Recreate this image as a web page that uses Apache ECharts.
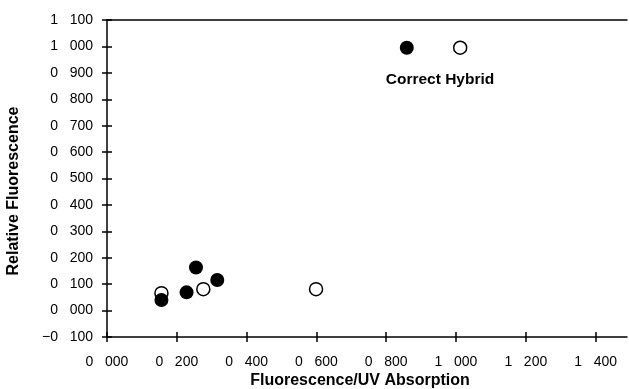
<!DOCTYPE html>
<html>
<head>
<meta charset="utf-8">
<script src="https://cdn.jsdelivr.net/npm/echarts@6/dist/echarts.min.js"></script>
<style>html,body{margin:0;padding:0;background:#fff;}#c{width:629px;height:389px;}</style>
</head>
<body>
<div id="c"></div>
<script>
// Data
const filledX = [0.156, 0.228, 0.255, 0.316, 0.859];
const filledY = [0.040, 0.069, 0.163, 0.116, 0.995];
const openX = [0.156, 0.276, 0.599, 1.012];
const openY = [0.066, 0.081, 0.081, 0.995];
const xTicks = [0, 0.2, 0.4, 0.6, 0.8, 1.0, 1.2, 1.4];
const xTitle = 'Fluorescence/UV Absorption';
const yTitle = 'Relative Fluorescence';
const annotation = 'Correct Hybrid';

function fmt(v) {
  const neg = v < -1e-9;
  const a = Math.abs(v);
  const ip = Math.floor(a + 1e-9);
  const fr = Math.round((a - ip) * 1000);
  return (neg ? '\u2212' : '') + ip + '   ' + String(fr).padStart(3, '0');
}

const FONT = '"Liberation Sans", Arial, Helvetica, sans-serif';
const chart = echarts.init(document.getElementById('c'), null, {renderer: 'canvas'});
const lineStyle = {color: '#000', width: 1.5};
chart.setOption({
  animation: false,
  backgroundColor: '#fff',
  grid: {left: 107, right: 2, top: 20, bottom: 52},
  xAxis: [
    {
      type: 'value', min: 0, max: 1.49, position: 'bottom',
      axisLine: {show: true, onZero: false, lineStyle},
      axisTick: {show: true, length: 5, inside: false, customValues: xTicks, lineStyle},
      axisLabel: {customValues: xTicks, formatter: fmt, color: '#000', fontSize: 14, fontFamily: FONT, margin: 18},
      splitLine: {show: false}
    },
    {
      type: 'value', min: 0, max: 1.49, position: 'bottom',
      axisLine: {show: false, onZero: false},
      axisTick: {show: true, length: 5, inside: true, customValues: xTicks, lineStyle},
      axisLabel: {show: false},
      splitLine: {show: false}
    },
    {
      type: 'value', min: 0, max: 1.49, position: 'top',
      axisLine: {show: true, onZero: false, lineStyle},
      axisTick: {show: false},
      axisLabel: {show: false},
      splitLine: {show: false}
    }
  ],
  yAxis: [
    {
      type: 'value', min: -0.1, max: 1.1, interval: 0.1, position: 'left',
      axisLine: {show: true, onZero: false, lineStyle},
      axisTick: {show: true, length: 5, inside: false, lineStyle},
      axisLabel: {formatter: fmt, color: '#000', fontSize: 14, fontFamily: FONT, margin: 14},
      splitLine: {show: false}
    },
    {
      type: 'value', min: -0.1, max: 1.1, interval: 0.1, position: 'left',
      axisLine: {show: false, onZero: false},
      axisTick: {show: true, length: 5, inside: true, lineStyle},
      axisLabel: {show: false},
      splitLine: {show: false}
    }
  ],
  graphic: [
    {type: 'text', x: 360, y: 381, style: {text: xTitle, font: 'bold 16px ' + FONT, fill: '#000', textAlign: 'center', textVerticalAlign: 'middle'}},
    {type: 'text', rotation: Math.PI / 2, x: 14, y: 191, style: {text: yTitle, font: 'bold 16px ' + FONT, fill: '#000', textAlign: 'center', textVerticalAlign: 'middle'}},
    {type: 'text', x: 440, y: 80, style: {text: annotation, font: 'bold 15.5px ' + FONT, fill: '#000', textAlign: 'center', textVerticalAlign: 'middle'}}
  ],
  series: [
    {
      type: 'scatter', xAxisIndex: 0, yAxisIndex: 0,
      symbol: 'circle', symbolSize: 13,
      itemStyle: {color: '#fff', borderColor: '#000', borderWidth: 1.5, opacity: 1},
      data: openX.map((x, i) => [x, openY[i]])
    },
    {
      type: 'scatter', xAxisIndex: 0, yAxisIndex: 0,
      symbol: 'circle', symbolSize: 14,
      itemStyle: {color: '#000', opacity: 1},
      data: filledX.map((x, i) => [x, filledY[i]])
    }
  ]
});
</script>
</body>
</html>
